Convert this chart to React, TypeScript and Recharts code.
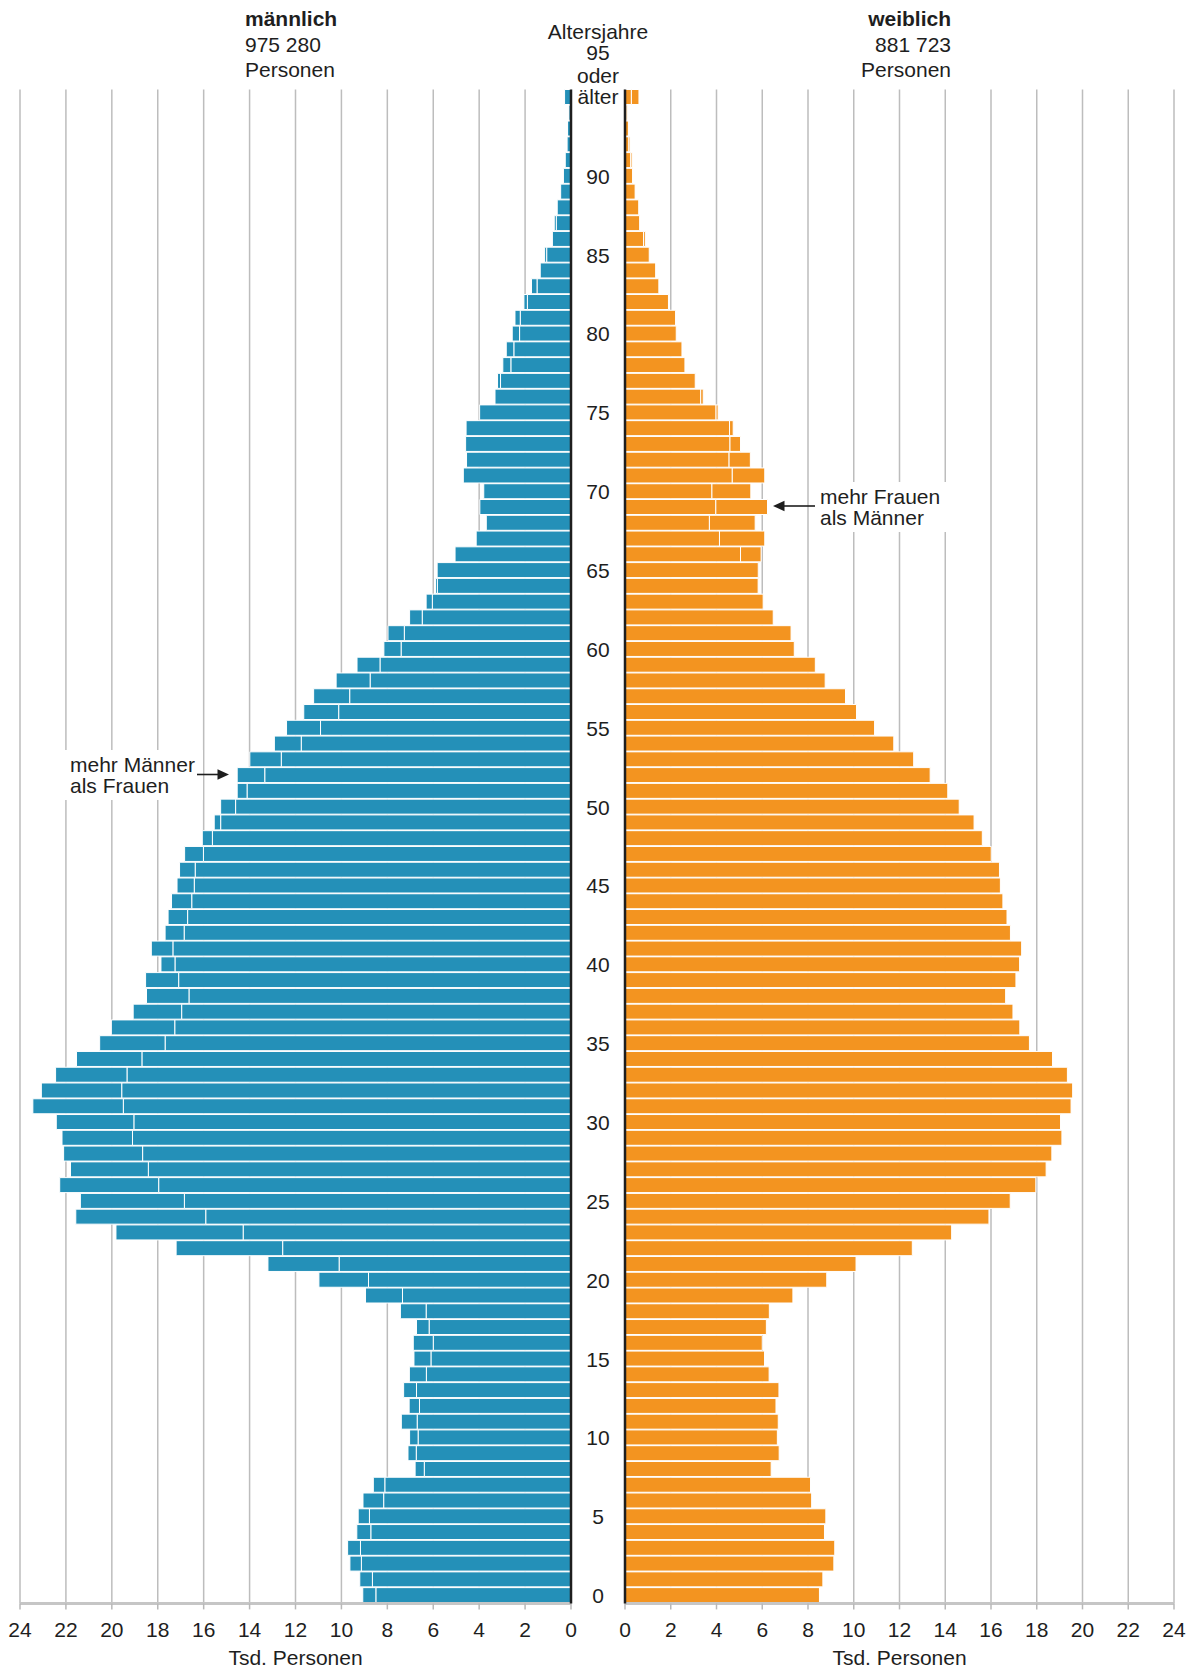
import React from 'react';
import { BarChart, Bar, XAxis, YAxis, CartesianGrid } from 'recharts';

// ---------- data (thousand persons) ----------
const ages = [
  0, 1, 2, 3, 4, 5, 6, 7, 8, 9,
  10, 11, 12, 13, 14, 15, 16, 17, 18, 19,
  20, 21, 22, 23, 24, 25, 26, 27, 28, 29,
  30, 31, 32, 33, 34, 35, 36, 37, 38, 39,
  40, 41, 42, 43, 44, 45, 46, 47, 48, 49,
  50, 51, 52, 53, 54, 55, 56, 57, 58, 59,
  60, 61, 62, 63, 64, 65, 66, 67, 68, 69,
  70, 71, 72, 73, 74, 75, 76, 77, 78, 79,
  80, 81, 82, 83, 84, 85, 86, 87, 88, 89,
  90, 91, 92, 93, 94, 95,
];

const male = [
  9.07, 9.2, 9.63, 9.73, 9.33, 9.27, 9.06, 8.61, 6.79, 7.1,
  7.03, 7.39, 7.05, 7.29, 7.04, 6.84, 6.87, 6.73, 7.43, 8.95,
  10.98, 13.2, 17.2, 19.82, 21.57, 21.37, 22.27, 21.8, 22.1, 22.17,
  22.42, 23.44, 23.07, 22.45, 21.54, 20.53, 20.02, 19.07, 18.49, 18.53,
  17.86, 18.28, 17.68, 17.55, 17.4, 17.16, 17.05, 16.83, 16.06, 15.54,
  15.26, 14.54, 14.54, 13.99, 12.92, 12.39, 11.64, 11.21, 10.23, 9.32,
  8.15, 7.97, 7.03, 6.31, 5.9, 5.83, 5.05, 4.13, 3.69, 3.97,
  3.8, 4.69, 4.55, 4.59, 4.57, 3.98, 3.31, 3.2, 2.97, 2.82,
  2.56, 2.44, 2.05, 1.72, 1.34, 1.15, 0.81, 0.73, 0.6, 0.45,
  0.33, 0.25, 0.17, 0.15, 0.09, 0.28,
];

const female = [
  8.5, 8.65, 9.13, 9.17, 8.72, 8.78, 8.16, 8.11, 6.39, 6.74,
  6.66, 6.7, 6.6, 6.73, 6.3, 6.1, 6.0, 6.18, 6.31, 7.34,
  8.82, 10.1, 12.56, 14.28, 15.91, 16.84, 17.96, 18.41, 18.66, 19.1,
  19.04, 19.5, 19.57, 19.34, 18.69, 17.68, 17.26, 16.96, 16.64, 17.09,
  17.25, 17.34, 16.85, 16.7, 16.52, 16.41, 16.37, 16.01, 15.62, 15.26,
  14.61, 14.11, 13.34, 12.62, 11.75, 10.91, 10.12, 9.64, 8.75, 8.32,
  7.4, 7.26, 6.48, 6.04, 5.82, 5.88, 5.95, 6.11, 5.69, 6.23,
  5.5, 6.11, 5.48, 5.05, 4.73, 4.07, 3.42, 3.07, 2.62, 2.49,
  2.24, 2.21, 1.9, 1.48, 1.34, 1.06, 0.89, 0.64, 0.6, 0.47,
  0.33, 0.31, 0.22, 0.15, 0.12, 0.61,
];

const xTicks = [0, 2, 4, 6, 8, 10, 12, 14, 16, 18, 20, 22, 24];
const ageTickLabels = [0, 5, 10, 15, 20, 25, 30, 35, 40, 45, 50, 55, 60, 65, 70, 75, 80, 85, 90];

const maleTitle = 'männlich';
const maleTotal = '975 280';
const femaleTitle = 'weiblich';
const femaleTotal = '881 723';
const unitLabel = 'Personen';
const axisTitle = 'Tsd. Personen';
const ageHeader = ['Altersjahre', '95', 'oder', 'älter'];

// ---------- styles ----------
const FONT = '"Liberation Sans", Arial, Helvetica, sans-serif';
const BLUE = '#2490b8';
const ORANGE = '#f39420';
const GRID = '#bdbdbd';
const TEXT = '#1e1e1e';

const W = 1196;
const H = 1668;
const PLOT_TOP = 89.5;
const X_AXIS_H = 40;
const BOTTOM_MARGIN = 24.6;
const L_LEFT = 20;
const L_AXIS = 571;
const R_AXIS = 625;
const R_RIGHT = 1174;
const CENTER_X = (L_AXIS + R_AXIS) / 2;
const Y_AXIS_W = 54;

const rows = ages.map((age, i) => {
  const m = male[i];
  const f = female[i];
  return {
    age,
    mCommon: Math.min(m, f),
    mExcess: Math.max(0, m - f),
    fCommon: Math.min(m, f),
    fExcess: Math.max(0, f - m),
  };
});

const AgeTick = (props: any) => {
  const { y, payload } = props;
  const v = Number(payload.value);
  if (!ageTickLabels.includes(v)) return <g />;
  return (
    <text x={CENTER_X} y={y} dy="0.36em" textAnchor="middle" fill={TEXT} fontSize={21} fontFamily={FONT}>
      {v}
    </text>
  );
};

const xAxisCommon = {
  type: 'number' as const,
  domain: [0, 24],
  ticks: xTicks,
  interval: 0 as const,
  height: X_AXIS_H,
  tickSize: 6,
  tickMargin: 13,
  allowDataOverflow: true,
  axisLine: { stroke: '#c6c6c6', strokeWidth: 3 },
  tickLine: { stroke: '#b8b8b8', strokeWidth: 1.5 },
  tick: { fill: TEXT, fontSize: 21, fontFamily: FONT },
};

const abs = (extra: React.CSSProperties): React.CSSProperties => ({
  position: 'absolute',
  fontFamily: FONT,
  fontSize: 21,
  lineHeight: '24px',
  color: TEXT,
  whiteSpace: 'nowrap',
  ...extra,
});

export default function App() {
  return (
    <div style={{ position: 'absolute', left: 0, top: 0, width: W, height: H, background: '#fff', overflow: 'hidden' }}>
      {/* male (left) */}
      <div style={{ position: 'absolute', left: 0, top: 0 }}>
        <BarChart
          width={W}
          height={H}
          layout="vertical"
          data={rows}
          barSize={15}
          margin={{ top: PLOT_TOP, right: W - L_AXIS - 1, bottom: BOTTOM_MARGIN, left: L_LEFT }}
        >
          <CartesianGrid horizontal={false} vertical stroke={GRID} strokeWidth={1.5} />
          <XAxis {...xAxisCommon} reversed />
          <Bar dataKey="mCommon" stackId="m" fill={BLUE} stroke="#fff" strokeWidth={1} isAnimationActive={false} />
          <Bar dataKey="mExcess" stackId="m" fill={BLUE} stroke="#fff" strokeWidth={1} isAnimationActive={false} />
          <YAxis
            type="category"
            dataKey="age"
            reversed
            orientation="right"
            width={1}
            interval={0}
            tick={false}
            tickLine={false}
            axisLine={{ stroke: TEXT, strokeWidth: 2.5 }}
          />
        </BarChart>
      </div>

      {/* female (right) */}
      <div style={{ position: 'absolute', left: 0, top: 0 }}>
        <BarChart
          width={W}
          height={H}
          layout="vertical"
          data={rows}
          barSize={15}
          margin={{ top: PLOT_TOP, right: W - R_RIGHT, bottom: BOTTOM_MARGIN, left: R_AXIS - Y_AXIS_W }}
        >
          <CartesianGrid horizontal={false} vertical stroke={GRID} strokeWidth={1.5} />
          <XAxis {...xAxisCommon} />
          <Bar dataKey="fCommon" stackId="f" fill={ORANGE} stroke="#fff" strokeWidth={1} isAnimationActive={false} />
          <Bar dataKey="fExcess" stackId="f" fill={ORANGE} stroke="#fff" strokeWidth={1} isAnimationActive={false} />
          <YAxis
            type="category"
            dataKey="age"
            reversed
            orientation="left"
            width={Y_AXIS_W}
            interval={0}
            tick={<AgeTick />}
            tickLine={false}
            axisLine={{ stroke: TEXT, strokeWidth: 2.5 }}
          />
        </BarChart>
      </div>

      {/* header */}
      <div style={abs({ left: 245, top: 7, fontWeight: 'bold' })}>{maleTitle}</div>
      <div style={abs({ left: 245, top: 33 })}>{maleTotal}</div>
      <div style={abs({ left: 245, top: 58 })}>{unitLabel}</div>
      <div style={abs({ right: W - 951, top: 7, fontWeight: 'bold', textAlign: 'right' })}>{femaleTitle}</div>
      <div style={abs({ right: W - 951, top: 33, textAlign: 'right' })}>{femaleTotal}</div>
      <div style={abs({ right: W - 951, top: 58, textAlign: 'right' })}>{unitLabel}</div>

      {ageHeader.map((t, i) => (
        <div
          key={t}
          style={abs({
            left: CENTER_X - 60,
            width: 120,
            textAlign: 'center',
            top: [20, 41, 64, 85][i],
          })}
        >
          {t}
        </div>
      ))}

      {/* axis titles */}
      <div style={abs({ left: (L_LEFT + L_AXIS) / 2 - 100, width: 200, textAlign: 'center', top: 1646 })}>{axisTitle}</div>
      <div style={abs({ left: (R_AXIS + R_RIGHT) / 2 - 100, width: 200, textAlign: 'center', top: 1646 })}>{axisTitle}</div>

      {/* annotations */}
      <div style={abs({ left: 62, top: 750, padding: '4px 8px', lineHeight: '21px', background: '#fff' })}>
        mehr Männer
        <br />
        als Frauen
      </div>
      <div style={abs({ left: 810, top: 482, padding: '4px 6px 4px 10px', lineHeight: '21px', background: '#fff' })}>
        mehr Frauen
        <br />
        als Männer
      </div>

      <svg width={W} height={H} style={{ position: 'absolute', left: 0, top: 0, pointerEvents: 'none' }}>
        <line x1={197} y1={774.5} x2={219} y2={774.5} stroke={TEXT} strokeWidth={1.6} />
        <polygon points="229,774.5 217.5,769.3 217.5,779.7" fill={TEXT} />
        <line x1={815} y1={506} x2={784} y2={506} stroke={TEXT} strokeWidth={1.6} />
        <polygon points="773,506 784.5,500.8 784.5,511.2" fill={TEXT} />
      </svg>
    </div>
  );
}
